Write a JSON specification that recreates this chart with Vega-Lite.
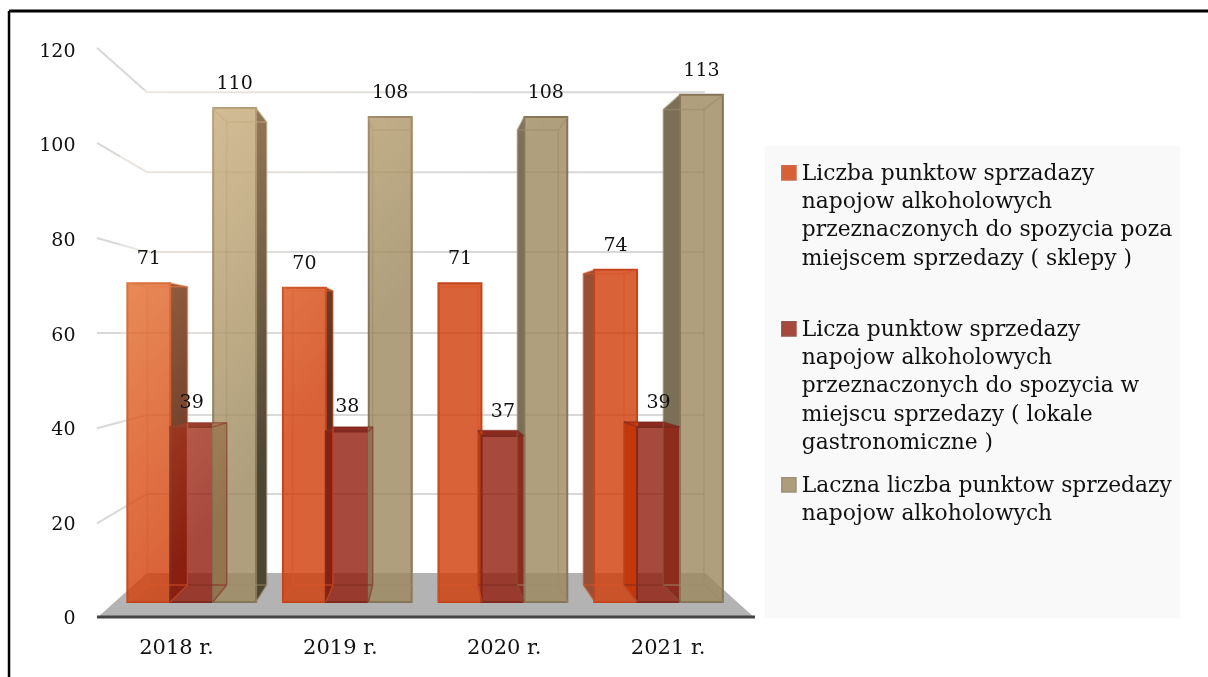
{"$schema":"https://vega.github.io/schema/vega-lite/v6.json","width":1208,"height":677,"autosize":{"type":"none"},"padding":0,"background":"white","view":{"stroke":null},
"datasets":{
"bars":[
{"year":"2018 r.","series":"Liczba punktow sprzadazy napojow alkoholowych przeznaczonych do spozycia poza miejscem sprzedazy ( sklepy )","value":71},
{"year":"2018 r.","series":"Licza punktow sprzedazy napojow alkoholowych przeznaczonych do spozycia w miejscu sprzedazy ( lokale gastronomiczne )","value":39},
{"year":"2018 r.","series":"Laczna liczba punktow sprzedazy napojow alkoholowych","value":110},
{"year":"2019 r.","series":"Liczba punktow sprzadazy napojow alkoholowych przeznaczonych do spozycia poza miejscem sprzedazy ( sklepy )","value":70},
{"year":"2019 r.","series":"Licza punktow sprzedazy napojow alkoholowych przeznaczonych do spozycia w miejscu sprzedazy ( lokale gastronomiczne )","value":38},
{"year":"2019 r.","series":"Laczna liczba punktow sprzedazy napojow alkoholowych","value":108},
{"year":"2020 r.","series":"Liczba punktow sprzadazy napojow alkoholowych przeznaczonych do spozycia poza miejscem sprzedazy ( sklepy )","value":71},
{"year":"2020 r.","series":"Licza punktow sprzedazy napojow alkoholowych przeznaczonych do spozycia w miejscu sprzedazy ( lokale gastronomiczne )","value":37},
{"year":"2020 r.","series":"Laczna liczba punktow sprzedazy napojow alkoholowych","value":108},
{"year":"2021 r.","series":"Liczba punktow sprzadazy napojow alkoholowych przeznaczonych do spozycia poza miejscem sprzedazy ( sklepy )","value":74},
{"year":"2021 r.","series":"Licza punktow sprzedazy napojow alkoholowych przeznaczonych do spozycia w miejscu sprzedazy ( lokale gastronomiczne )","value":39},
{"year":"2021 r.","series":"Laczna liczba punktow sprzedazy napojow alkoholowych","value":113}],
"boxes":[
{"s":"o","xf1":0.086,"xf2":0.362,"xb1":0.215,"xb2":0.473,"vf":71,"vb":70.2},
{"s":"m","xf1":0.362,"xf2":0.635,"xb1":0.473,"xb2":0.725,"vf":39,"vb":39.9},
{"s":"t","xf1":0.635,"xf2":0.913,"xb1":0.725,"xb2":0.982,"vf":110,"vb":106.9},
{"s":"o","xf1":1.085,"xf2":1.363,"xb1":1.149,"xb2":1.408,"vf":70,"vb":69.3},
{"s":"m","xf1":1.363,"xf2":1.635,"xb1":1.408,"xb2":1.663,"vf":38,"vb":39},
{"s":"t","xf1":1.635,"xf2":1.918,"xb1":1.663,"xb2":1.918,"vf":108,"vb":105.1},
{"s":"o","xf1":2.085,"xf2":2.364,"xb1":2.085,"xb2":2.34,"vf":71,"vb":70.1},
{"s":"m","xf1":2.364,"xf2":2.636,"xb1":2.34,"xb2":2.593,"vf":37,"vb":38.2},
{"s":"t","xf1":2.636,"xf2":2.916,"xb1":2.593,"xb2":2.856,"vf":108,"vb":105.1},
{"s":"o","xf1":3.092,"xf2":3.364,"xb1":3.017,"xb2":3.278,"vf":74,"vb":73.1},
{"s":"m","xf1":3.364,"xf2":3.638,"xb1":3.278,"xb2":3.531,"vf":39,"vb":40.1},
{"s":"t","xf1":3.638,"xf2":3.92,"xb1":3.531,"xb2":3.792,"vf":113,"vb":109.7}],
"sides":[
{"id":1,"face":"o-r","x":0.362,"top":71,"bot":0},{"id":1,"face":"o-r","x":0.473,"top":70.2,"bot":3.8},
{"id":2,"face":"m-r","x":0.635,"top":39,"bot":0},{"id":2,"face":"m-r","x":0.725,"top":39.9,"bot":3.8},
{"id":3,"face":"t-r","x":0.913,"top":110,"bot":0},{"id":3,"face":"t-r","x":0.982,"top":106.9,"bot":3.8},
{"id":4,"face":"o-r","x":1.363,"top":70,"bot":0},{"id":4,"face":"o-r","x":1.408,"top":69.3,"bot":3.8},
{"id":5,"face":"m-r","x":1.635,"top":38,"bot":0},{"id":5,"face":"m-r","x":1.663,"top":39,"bot":3.8},
{"id":6,"face":"m-l","x":2.34,"top":38.2,"bot":3.8},{"id":6,"face":"m-l","x":2.364,"top":37,"bot":0},
{"id":7,"face":"t-l","x":2.593,"top":105.1,"bot":3.8},{"id":7,"face":"t-l","x":2.636,"top":108,"bot":0},
{"id":8,"face":"o-l","x":3.017,"top":73.1,"bot":3.8},{"id":8,"face":"o-l","x":3.092,"top":74,"bot":0},
{"id":9,"face":"m-l","x":3.278,"top":40.1,"bot":3.8},{"id":9,"face":"m-l","x":3.364,"top":39,"bot":0},
{"id":10,"face":"t-l","x":3.531,"top":109.7,"bot":3.8},{"id":10,"face":"t-l","x":3.638,"top":113,"bot":0}],
"caps":[
{"id":1,"x":0.362,"a":39,"b":39},{"id":1,"x":0.473,"a":39.9,"b":39},{"id":1,"x":0.635,"a":39.9,"b":39},{"id":1,"x":0.725,"a":39.9,"b":39.9},
{"id":2,"x":1.363,"a":38,"b":38},{"id":2,"x":1.408,"a":39,"b":38},{"id":2,"x":1.635,"a":39,"b":38},{"id":2,"x":1.663,"a":39,"b":39},
{"id":3,"x":2.34,"a":38.2,"b":38.2},{"id":3,"x":2.364,"a":38.2,"b":37},{"id":3,"x":2.593,"a":38.2,"b":37},{"id":3,"x":2.636,"a":37,"b":37},
{"id":4,"x":3.278,"a":40.1,"b":40.1},{"id":4,"x":3.364,"a":40.1,"b":39},{"id":4,"x":3.531,"a":40.1,"b":39},{"id":4,"x":3.638,"a":39,"b":39}],
"grid":[
{"g":120,"x":-0.109,"y":120.5},{"g":120,"x":0.213,"y":111.1},{"g":120,"x":3.799,"y":111.1},
{"g":100,"x":-0.109,"y":100.4},{"g":100,"x":0.213,"y":94.2},{"g":100,"x":3.799,"y":94.2},
{"g":80,"x":-0.109,"y":80.3},{"g":80,"x":0.213,"y":77.3},{"g":80,"x":3.799,"y":77.3},
{"g":60,"x":-0.109,"y":60.2},{"g":60,"x":0.213,"y":60.2},{"g":60,"x":3.799,"y":60.2},
{"g":40,"x":-0.109,"y":40.1},{"g":40,"x":0.213,"y":42.9},{"g":40,"x":3.799,"y":42.9},
{"g":20,"x":-0.109,"y":20},{"g":20,"x":0.213,"y":26.2},{"g":20,"x":3.799,"y":26.2}],
"floor":[{"x":-0.109,"top":0,"bot":0},{"x":0.213,"top":9.5,"bot":0},{"x":3.799,"top":9.5,"bot":0},{"x":4.12,"top":0,"bot":0}]
},
"layer":[
{"data":{"values":[{"x1":4.184,"x2":6.851,"y1":99.7,"y2":0}]},"mark":{"type":"rect","fill":"#f9f9f9"},
 "encoding":{"x":{"field":"x1","type":"quantitative","scale":{"domain":[-0.732,7.0315],"nice":false,"zero":false},"axis":null},"x2":{"field":"x2"},
 "y":{"field":"y1","type":"quantitative","scale":{"domain":[-12.47,130.57],"nice":false,"zero":false},"axis":null},"y2":{"field":"y2"}}},
{"data":{"name":"floor"},"mark":{"type":"area","color":"#b3b3b3"},
 "encoding":{"x":{"field":"x","type":"quantitative","scale":{"domain":[-0.732,7.0315],"nice":false,"zero":false},"axis":null},
 "y":{"field":"top","type":"quantitative","scale":{"domain":[-12.47,130.57],"nice":false,"zero":false},"axis":null},"y2":{"field":"bot"}}},
{"data":{"name":"grid"},"mark":{"type":"line","color":"#d8d8d8","strokeWidth":2},
 "encoding":{"x":{"field":"x","type":"quantitative","scale":{"domain":[-0.732,7.0315],"nice":false,"zero":false},"axis":null},
 "y":{"field":"y","type":"quantitative","scale":{"domain":[-12.47,130.57],"nice":false,"zero":false},
   "axis":{"values":[0,20,40,60,80,100,120],"orient":"left","offset":-85,"labelPadding":10,"ticks":false,"domain":false,"grid":false,"title":null,"labelFont":"DejaVu Serif","labelFontSize":19,"labelColor":"#111"}},
 "detail":{"field":"g","type":"nominal"}}},
{"data":{"values":[{"a":-0.109,"b":4.12,"y":0.2}]},"mark":{"type":"rule","color":"#444444","strokeWidth":3},
 "encoding":{"x":{"field":"a","type":"quantitative","scale":{"domain":[-0.732,7.0315],"nice":false,"zero":false},"axis":null},"x2":{"field":"b"},
 "y":{"field":"y","type":"quantitative","scale":{"domain":[-12.47,130.57],"nice":false,"zero":false},"axis":null}}},
{"data":{"values":[{"a":-0.674,"b":7.0315,"y":128.25}]},"mark":{"type":"rule","color":"#000000","strokeWidth":3},
 "encoding":{"x":{"field":"a","type":"quantitative","scale":{"domain":[-0.732,7.0315],"nice":false,"zero":false},"axis":null},"x2":{"field":"b"},
 "y":{"field":"y","type":"quantitative","scale":{"domain":[-12.47,130.57],"nice":false,"zero":false},"axis":null}}},
{"data":{"values":[{"a":-0.674,"y":128.25,"y2":-12.47}]},"mark":{"type":"rule","color":"#000000","strokeWidth":2.5},
 "encoding":{"x":{"field":"a","type":"quantitative","scale":{"domain":[-0.732,7.0315],"nice":false,"zero":false},"axis":null},
 "y":{"field":"y","type":"quantitative","scale":{"domain":[-12.47,130.57],"nice":false,"zero":false},"axis":null},"y2":{"field":"y2"}}},
{"data":{"name":"sides"},"mark":{"type":"area"},
 "encoding":{"x":{"field":"x","type":"quantitative","scale":{"domain":[-0.732,7.0315],"nice":false,"zero":false},"axis":null},
 "y":{"field":"top","type":"quantitative","scale":{"domain":[-16.7,134.08],"nice":false,"zero":false},"axis":null},"y2":{"field":"bot"},
 "detail":{"field":"id","type":"nominal"},
 "fill":{"field":"face","type":"nominal","scale":{"domain":["o-r","m-r","t-r","o-l","m-l","t-l"],"range":["#5e2f20","#7a2a1e","#4d4634","#985035","#8a2c20","#7b6f58"]},"legend":null}}},
{"data":{"name":"caps"},"mark":{"type":"area","color":"#8b2b20"},
 "encoding":{"x":{"field":"x","type":"quantitative","scale":{"domain":[-0.732,7.0315],"nice":false,"zero":false},"axis":null},
 "y":{"field":"a","type":"quantitative","scale":{"domain":[-16.7,134.08],"nice":false,"zero":false},"axis":null},"y2":{"field":"b"},
 "detail":{"field":"id","type":"nominal"}}},
{"data":{"name":"bars"},"mark":{"type":"bar","fillOpacity":0.8,"strokeWidth":2},
 "encoding":{"x":{"field":"year","type":"nominal","scale":{"type":"band","domain":["2018 r.","2019 r.","2020 r.","2021 r."],"paddingInner":0,"paddingOuter":0,"range":[113.9,736.3]},"axis":null},
 "xOffset":{"field":"series","type":"nominal","sort":null,"scale":{"type":"band","domain":["Liczba punktow sprzadazy napojow alkoholowych przeznaczonych do spozycia poza miejscem sprzedazy ( sklepy )","Licza punktow sprzedazy napojow alkoholowych przeznaczonych do spozycia w miejscu sprzedazy ( lokale gastronomiczne )","Laczna liczba punktow sprzedazy napojow alkoholowych"],"paddingInner":0,"paddingOuter":0.313}},
 "y":{"field":"value","type":"quantitative","scale":{"domain":[-16.7,134.08],"nice":false,"zero":false},"axis":null},
 "fill":{"field":"series","type":"nominal","sort":null,"title":null,"scale":{"domain":["Liczba punktow sprzadazy napojow alkoholowych przeznaczonych do spozycia poza miejscem sprzedazy ( sklepy )","Licza punktow sprzedazy napojow alkoholowych przeznaczonych do spozycia w miejscu sprzedazy ( lokale gastronomiczne )","Laczna liczba punktow sprzedazy napojow alkoholowych"],"range":["#d13b06","#921b0e","#9b875b"]},
  "legend":{"orient":"none","legendX":778,"legendY":162,"title":null,"symbolType":"square","symbolSize":200,"symbolOpacity":0.8,"symbolStrokeWidth":1.5,"labelFont":"DejaVu Serif","labelFontSize":21.8,"labelColor":"#111","labelLimit":500,"labelOffset":2,"rowPadding":20,"padding":0,
   "labelExpr":"indexof(datum.label,'Liczba')==0 ? ['Liczba punktow sprzadazy','napojow alkoholowych','przeznaczonych do spozycia poza','miejscem sprzedazy ( sklepy )',' '] : indexof(datum.label,'Licza')==0 ? ['Licza punktow sprzedazy','napojow alkoholowych','przeznaczonych do spozycia w','miejscu sprzedazy ( lokale','gastronomiczne )'] : ['Laczna liczba punktow sprzedazy','napojow alkoholowych']",
   "encoding":{"labels":{"lineHeight":{"value":28.3}}}}},
 "stroke":{"field":"series","type":"nominal","sort":null,"title":null,"scale":{"domain":["Liczba punktow sprzadazy napojow alkoholowych przeznaczonych do spozycia poza miejscem sprzedazy ( sklepy )","Licza punktow sprzedazy napojow alkoholowych przeznaczonych do spozycia w miejscu sprzedazy ( lokale gastronomiczne )","Laczna liczba punktow sprzedazy napojow alkoholowych"],"range":["#c4451b","#7e2a1e","#85765a"]}}}},
{"data":{"name":"boxes"},"layer":[
 {"mark":{"type":"rule","strokeWidth":1.5,"opacity":0.6},"encoding":{"x":{"field":"xb1","type":"quantitative"},"y":{"field":"vb","type":"quantitative"},"y2":{"datum":3.8}}},
 {"mark":{"type":"rule","strokeWidth":1.5,"opacity":0.6},"encoding":{"x":{"field":"xb2","type":"quantitative"},"y":{"field":"vb","type":"quantitative"},"y2":{"datum":3.8}}},
 {"mark":{"type":"rule","strokeWidth":1.5,"opacity":0.6},"encoding":{"x":{"field":"xb1","type":"quantitative"},"x2":{"field":"xb2"},"y":{"field":"vb","type":"quantitative"}}},
 {"mark":{"type":"rule","strokeWidth":1.5,"opacity":0.6},"encoding":{"x":{"field":"xb1","type":"quantitative"},"x2":{"field":"xb2"},"y":{"datum":3.8,"type":"quantitative"}}},
 {"mark":{"type":"rule","strokeWidth":1.5,"opacity":0.6},"encoding":{"x":{"field":"xf1","type":"quantitative"},"x2":{"field":"xb1"},"y":{"field":"vf","type":"quantitative"},"y2":{"field":"vb"}}},
 {"mark":{"type":"rule","strokeWidth":1.5,"opacity":0.6},"encoding":{"x":{"field":"xf2","type":"quantitative"},"x2":{"field":"xb2"},"y":{"field":"vf","type":"quantitative"},"y2":{"field":"vb"}}},
 {"mark":{"type":"rule","strokeWidth":1.5,"opacity":0.6},"encoding":{"x":{"field":"xf1","type":"quantitative"},"x2":{"field":"xb1"},"y":{"datum":0,"type":"quantitative"},"y2":{"datum":3.8}}},
 {"mark":{"type":"rule","strokeWidth":1.5,"opacity":0.6},"encoding":{"x":{"field":"xf2","type":"quantitative"},"x2":{"field":"xb2"},"y":{"datum":0,"type":"quantitative"},"y2":{"datum":3.8}}}
],
 "encoding":{"x":{"scale":{"domain":[-0.732,7.0315],"nice":false,"zero":false},"axis":null},
  "y":{"scale":{"domain":[-16.7,134.08],"nice":false,"zero":false},"axis":null},
  "stroke":{"field":"s","type":"nominal","scale":{"domain":["o","m","t"],"range":["#d9552a","#7e2a1e","#9c8c6a"]},"legend":null}}},
{"data":{"values":[{"x1":0.04,"x2":3.95,"y1":114,"y2":0}]},"mark":{"type":"rect","blend":"screen","fill":{"gradient":"linear","x1":0,"y1":0,"x2":1,"y2":0.7,"stops":[{"offset":0,"color":"#96663f"},{"offset":0.5,"color":"#000000"}]}},
 "encoding":{"x":{"field":"x1","type":"quantitative","scale":{"domain":[-0.732,7.0315],"nice":false,"zero":false},"axis":null},"x2":{"field":"x2"},
 "y":{"field":"y1","type":"quantitative","scale":{"domain":[-16.7,134.08],"nice":false,"zero":false},"axis":null},"y2":{"field":"y2"}}},
{"data":{"name":"bars"},"mark":{"type":"text","font":"DejaVu Serif","fontSize":19,"color":"#111","dy":-25},
 "encoding":{"x":{"field":"year","type":"nominal","scale":{"type":"band","domain":["2018 r.","2019 r.","2020 r.","2021 r."],"paddingInner":0,"paddingOuter":0,"range":[113.9,736.3]},"axis":null},
 "xOffset":{"field":"series","type":"nominal","sort":null,"scale":{"type":"band","domain":["Liczba punktow sprzadazy napojow alkoholowych przeznaczonych do spozycia poza miejscem sprzedazy ( sklepy )","Licza punktow sprzedazy napojow alkoholowych przeznaczonych do spozycia w miejscu sprzedazy ( lokale gastronomiczne )","Laczna liczba punktow sprzedazy napojow alkoholowych"],"paddingInner":0,"paddingOuter":0.313}},
 "y":{"field":"value","type":"quantitative","scale":{"domain":[-16.7,134.08],"nice":false,"zero":false},"axis":null},
 "text":{"field":"value","type":"quantitative"}}},
{"data":{"name":"bars"},"mark":{"type":"point","opacity":0},
 "encoding":{"x":{"field":"year","type":"nominal","scale":{"type":"band","domain":["2018 r.","2019 r.","2020 r.","2021 r."],"paddingInner":0,"paddingOuter":0,"range":[94.5,750]},
   "axis":{"orient":"bottom","offset":-59,"labelPadding":18,"ticks":false,"domain":false,"title":null,"labelAngle":0,"labelFont":"DejaVu Serif","labelFontSize":21,"labelColor":"#111"}},
 "y":{"datum":0,"type":"quantitative","scale":{"domain":[-12.47,130.57],"nice":false,"zero":false},"axis":null}}}
],
"resolve":{"scale":{"x":"independent","y":"independent","fill":"independent","stroke":"independent","xOffset":"independent"},"axis":{"x":"independent","y":"independent"},"legend":{"fill":"independent","stroke":"independent"}}
}
